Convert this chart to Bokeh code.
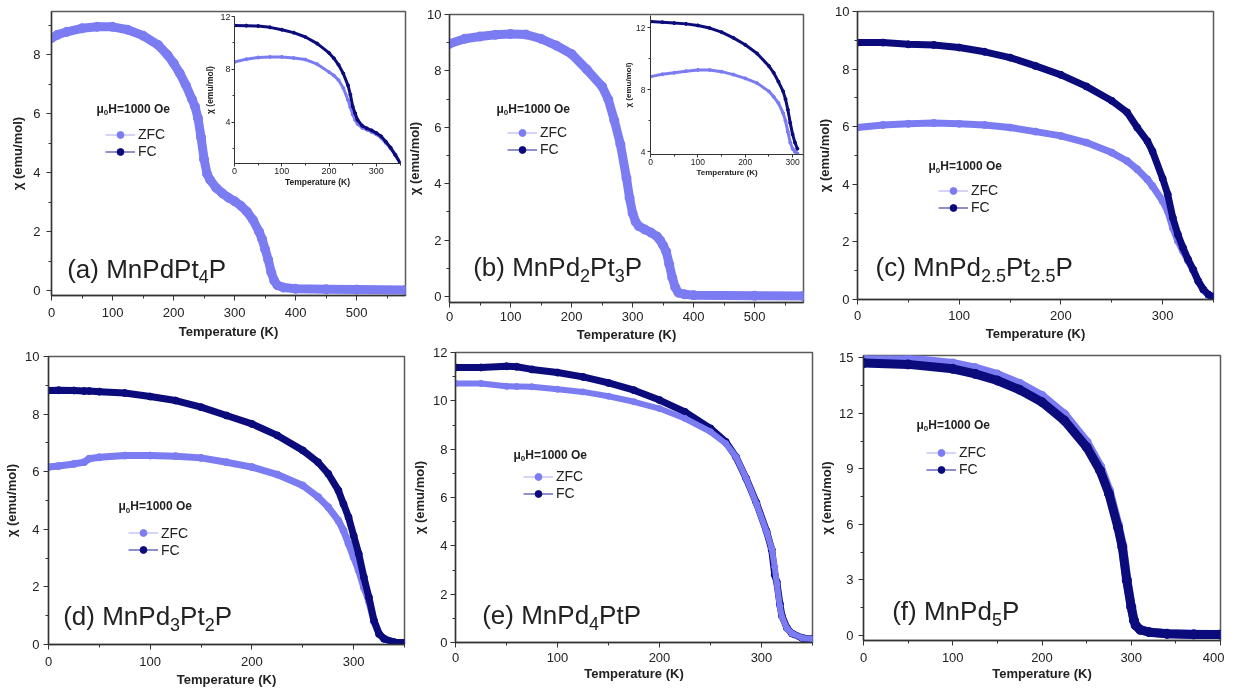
from bokeh.plotting import figure
from bokeh.models import Range1d, SingleIntervalTicker, Label, Legend, LegendItem, Column
from bokeh.embed import file_html
from bokeh.resources import INLINE

# ---------------- data ----------------
# (a) MnPdPt4P main panel, ZFC
T_a = [0, 10, 25, 50, 75, 100, 125, 150, 175, 190, 200, 210, 220, 230, 235, 240, 245, 250, 255, 260,
       270, 280, 290, 300, 310, 320, 330, 340, 345, 350, 355, 360, 365, 370, 380, 400, 450, 500, 580]
zfc_a = [8.57, 8.68, 8.78, 8.9, 8.95, 8.95, 8.85, 8.65, 8.33, 8.0, 7.72, 7.38, 6.98, 6.5, 6.25, 5.85, 5.2, 4.45, 3.95, 3.75,
         3.48, 3.3, 3.15, 3.03, 2.88, 2.68, 2.4, 2.0, 1.75, 1.4, 1.05, 0.62, 0.33, 0.18, 0.1, 0.06, 0.04, 0.03, 0.02]
# (a) inset
T_ia = [0, 25, 50, 75, 100, 125, 150, 175, 200, 210, 220, 230, 240, 245, 250, 255, 260, 270, 280, 290,
        300, 310, 320, 330, 340, 350]
fc_ia = [11.32, 11.31, 11.28, 11.18, 11.0, 10.78, 10.45, 9.95, 9.25, 8.85, 8.35, 7.7, 6.8, 6.1, 5.2, 4.7, 4.2, 3.75, 3.55, 3.4,
         3.2, 2.95, 2.55, 2.1, 1.55, 0.95]
zfc_ia = [8.57, 8.78, 8.9, 8.95, 8.95, 8.87, 8.75, 8.4, 7.8, 7.55, 7.2, 6.6, 5.7, 5.15, 4.6, 4.2, 3.9, 3.6, 3.45, 3.28,
          3.1, 2.85, 2.45, 2.05, 1.55, 0.95]
# (b) MnPd2Pt3P main panel, ZFC
T_b = [0, 25, 50, 75, 100, 125, 150, 175, 200, 225, 250, 260, 270, 280, 290, 295, 300, 305, 310, 320,
       330, 340, 345, 350, 355, 360, 365, 370, 375, 385, 400, 500, 580]
zfc_b = [8.96, 9.14, 9.22, 9.28, 9.31, 9.29, 9.14, 8.9, 8.6, 8.05, 7.45, 7.0, 6.25, 5.4, 4.2, 3.5, 2.95, 2.65, 2.5, 2.38,
         2.27, 2.13, 2.0, 1.82, 1.6, 1.15, 0.67, 0.32, 0.14, 0.08, 0.05, 0.03, 0.02]
# (b) inset
T_ib = [0, 25, 50, 75, 100, 125, 150, 175, 200, 225, 250, 260, 270, 280, 285, 290, 295, 300, 305, 310]
fc_ib = [12.4, 12.36, 12.3, 12.25, 12.15, 11.98, 11.72, 11.35, 10.9, 10.34, 9.53, 9.1, 8.53, 7.9, 7.4, 6.72, 5.87, 5.13, 4.6, 4.2]
zfc_ib = [8.85, 9.0, 9.1, 9.2, 9.28, 9.28, 9.17, 8.98, 8.74, 8.43, 7.9, 7.55, 7.15, 6.5, 6.0, 5.3, 4.6, 4.2, 4.0, 3.9]
# (c) MnPd2.5Pt2.5P
T_c = [0, 25, 50, 75, 100, 125, 150, 175, 200, 225, 250, 265, 275, 285, 290, 300, 305, 310, 315, 320,
       325, 330, 335, 340, 345, 350]
fc_c = [8.92, 8.92, 8.86, 8.84, 8.75, 8.6, 8.4, 8.11, 7.8, 7.4, 6.9, 6.5, 5.97, 5.5, 5.15, 4.2, 3.65, 2.84, 2.26, 1.8,
        1.39, 1.04, 0.64, 0.35, 0.17, 0.09]
zfc_c = [5.97, 6.06, 6.1, 6.13, 6.1, 6.06, 5.97, 5.83, 5.68, 5.45, 5.1, 4.81, 4.52, 4.17, 3.94, 3.42, 3.07, 2.49, 2.03, 1.68,
         1.35, 1.02, 0.63, 0.34, 0.16, 0.08]
# (d) MnPd3Pt2P
T_d = [0, 10, 25, 35, 40, 50, 75, 100, 125, 150, 175, 200, 225, 250, 265, 275, 285, 290, 295, 300,
       305, 310, 315, 320, 325, 330, 340, 350]
fc_d = [8.82, 8.83, 8.82, 8.8, 8.8, 8.78, 8.73, 8.61, 8.47, 8.24, 7.95, 7.66, 7.26, 6.74, 6.33, 5.93, 5.35, 4.88, 4.42, 3.78,
        3.15, 2.34, 1.64, 0.83, 0.37, 0.2, 0.08, 0.06]
zfc_d = [6.16, 6.2, 6.27, 6.33, 6.45, 6.5, 6.56, 6.56, 6.54, 6.48, 6.33, 6.16, 5.9, 5.52, 5.12, 4.77, 4.3, 3.96, 3.5, 3.03,
         2.57, 1.99, 1.5, 0.8, 0.36, 0.19, 0.08, 0.06]
# (e) MnPd4PtP
T_e = [0, 25, 50, 60, 75, 100, 125, 150, 175, 200, 225, 250, 265, 275, 285, 295, 305, 310, 313, 315,
       318, 320, 325, 330, 340, 350]
fc_e = [11.38, 11.38, 11.43, 11.41, 11.3, 11.17, 10.99, 10.74, 10.44, 10.03, 9.54, 8.86, 8.3, 7.68, 6.79, 5.78, 4.6, 3.85, 2.8, 2.5,
        1.6, 1.1, 0.6, 0.37, 0.19, 0.14]
zfc_e = [10.72, 10.72, 10.6, 10.59, 10.58, 10.48, 10.37, 10.19, 9.96, 9.68, 9.27, 8.72, 8.23, 7.68, 6.79, 5.75, 4.58, 3.89, 3.13, 2.44,
         1.48, 1.06, 0.58, 0.37, 0.19, 0.14]
# (f) MnPd5P
T_f = [0, 50, 100, 125, 150, 175, 200, 225, 250, 265, 275, 285, 290, 295, 300, 303, 305, 310, 320, 340, 370, 400]
fc_f = [14.72, 14.65, 14.41, 14.14, 13.78, 13.28, 12.61, 11.62, 10.18, 8.92, 7.66, 5.86, 4.77, 2.97, 1.53, 0.81, 0.54, 0.31,
        0.18, 0.09, 0.06, 0.05]
zfc_f = [15.0, 14.95, 14.7, 14.45, 14.1, 13.6, 12.95, 11.95, 10.45, 9.15, 7.85, 6.0, 4.9, 3.05, 1.58, 0.84, 0.56, 0.32,
         0.19, 0.1, 0.07, 0.06]

# ---------------- texts ----------------
x_label = "Temperature (K)"
y_label = "χ (emu/mol)"
series_names = ["ZFC", "FC"]
legend_title = [("μ", False), ("0", True), ("H=1000 Oe", False)]
name_a = [("(a) MnPdPt", False), ("4", True), ("P", False)]
name_b = [("(b) MnPd", False), ("2", True), ("Pt", False), ("3", True), ("P", False)]
name_c = [("(c) MnPd", False), ("2.5", True), ("Pt", False), ("2.5", True), ("P", False)]
name_d = [("(d) MnPd", False), ("3", True), ("Pt", False), ("2", True), ("P", False)]
name_e = [("(e) MnPd", False), ("4", True), ("PtP", False)]
name_f = [("(f) MnPd", False), ("5", True), ("P", False)]

# ---------------- styles ----------------
FONT = "Liberation Sans"
ZFC_COLOR = "#7b7cf2"
FC_COLOR = "#0b0b7c"
ZFC_LEG_LINE = "#c6c6f9"
FC_LEG_LINE = "#6a6ab8"
TXT = "#222222"
NAN = float("nan")

REG_W = {' ': 278, '(': 333, ')': 333, 'a': 556, 'b': 556, 'c': 500, 'd': 556, 'e': 556, 'f': 278,
         'M': 833, 'n': 556, 'P': 667, 't': 278, '.': 278}
BOLD_W = {'μ': 611, 'H': 722, '=': 584, ' ': 278, 'O': 778, 'e': 556}

ML_MAIN, MT_MAIN, MR_MAIN, MB_MAIN = 56, 10, 4, 45
ML_IN, MT_IN, MR_IN, MB_IN = 56, 8, 2, 30


def text_w(s, size, bold):
    tbl = BOLD_W if bold else REG_W
    return sum(tbl.get(ch, 556) for ch in s) * size / 1000.0


def make_fig(frame, xr, yr, xint, yint, tick_fs, lab_fs, tout, mout,
             xls, xals, yls, yals, inset=False):
    fx, fy, fw, fh = frame
    if inset:
        ml, mt, mr, mb = ML_IN, MT_IN, MR_IN, MB_IN
    else:
        ml, mt, mr, mb = ML_MAIN, MT_MAIN, MR_MAIN, MB_MAIN
    p = figure(frame_width=fw, frame_height=fh, x_range=Range1d(*xr), y_range=Range1d(*yr),
               output_backend="svg", toolbar_location=None,
               min_border_left=ml, min_border_right=mr, min_border_top=mt, min_border_bottom=mb,
               styles={"position": "absolute", "left": f"{fx - ml}px", "top": f"{fy - mt}px"})
    p.border_fill_color = None
    p.background_fill_color = None if inset else "white"
    if inset:
        p.outline_line_color = None
    else:
        p.outline_line_color = "#5a5a5a"
        p.outline_line_width = 1.5
    p.grid.visible = False
    p.xaxis.ticker = SingleIntervalTicker(interval=xint, num_minor_ticks=2)
    p.yaxis.ticker = SingleIntervalTicker(interval=yint, num_minor_ticks=2)
    for ax, ls, als in ((p.xaxis, xls, xals), (p.yaxis, yls, yals)):
        ax.axis_line_color = "#333333"
        ax.axis_line_width = 1.3 if not inset else 1.0
        ax.major_tick_line_color = "#333333"
        ax.minor_tick_line_color = "#333333"
        ax.major_tick_in = 0
        ax.major_tick_out = tout
        ax.minor_tick_in = 0
        ax.minor_tick_out = mout
        ax.major_label_text_font = FONT
        ax.major_label_text_font_size = f"{tick_fs}px"
        ax.major_label_text_color = TXT
        ax.major_label_standoff = ls
        ax.axis_label_text_font = FONT
        ax.axis_label_text_font_size = f"{lab_fs}px"
        ax.axis_label_text_font_style = "bold"
        ax.axis_label_text_color = TXT
        ax.axis_label_standoff = als
    p.xaxis.axis_label = x_label
    p.yaxis.axis_label = y_label
    p._frame = frame
    p._xr = xr
    p._yr = yr
    return p


def to_data(p, px, py):
    fx, fy, fw, fh = p._frame
    x0, x1 = p._xr
    y0, y1 = p._yr
    return x0 + (px - fx) / fw * (x1 - x0), y1 - (py - fy) / fh * (y1 - y0)


def rich_text(p, px, baseline, pieces, size, sub_size, drop, bold):
    """Text with subscripts; px = left edge, baseline = main text baseline (reference pixels)."""
    off = 0.0
    for txt, sub in pieces:
        fs = sub_size if sub else size
        cy = baseline + (drop if sub else 0) - 0.35 * fs
        x, y = to_data(p, px, cy)
        p.add_layout(Label(x=x, y=y, x_offset=off, text=txt,
                           text_font=FONT, text_font_size=f"{fs}px",
                           text_font_style="bold" if bold else "normal",
                           text_color=TXT, text_baseline="middle", text_align="left"))
        off += text_w(txt, fs, bold)


def band(p, T, vals, color, width):
    p.line(T, vals, line_color=color, line_width=width, line_join="round", line_cap="round")
    p.scatter(T, vals, size=width, color=color)


def add_legend(p, glyph_x, zfc_y, title_x, title_y):
    fx, fy, fw, fh = p._frame
    lz = p.line(x=[NAN], y=[NAN], line_color=ZFC_LEG_LINE, line_width=1.5)
    dz = p.scatter(x=[NAN], y=[NAN], size=8, color=ZFC_COLOR)
    lf = p.line(x=[NAN], y=[NAN], line_color=FC_LEG_LINE, line_width=1.5)
    df = p.scatter(x=[NAN], y=[NAN], size=8, color=FC_COLOR)
    item_h = 17
    top = zfc_y - item_h / 2.0
    bottom = top + 2 * item_h
    leg = Legend(items=[LegendItem(label=series_names[0], renderers=[lz, dz]),
                        LegendItem(label=series_names[1], renderers=[lf, df])],
                 location=(glyph_x - fx, (fy + fh) - bottom),
                 glyph_width=30, glyph_height=item_h, label_height=item_h, label_standoff=3,
                 spacing=0, padding=0, margin=0, border_line_color=None,
                 background_fill_alpha=0, label_text_font=FONT, label_text_font_size="14px",
                 label_text_color=TXT)
    p.add_layout(leg)
    rich_text(p, title_x, title_y + 4.2, legend_title, 12, 8, 3, True)


figs = []

# (a)
pa = make_fig((51, 11, 354, 284), (0, 580), (-0.17, 9.47), 100, 2, 13, 13, 5, 3, 7, 4, 6, 5)
band(pa, T_a, zfc_a, ZFC_COLOR, 9)
add_legend(pa, 105, 134, 96, 108)
rich_text(pa, 66.7, 277.3, name_a, 26, 18, 5, False)
figs.append(pa)

ia = make_fig((234, 16, 166, 147), (0, 351), (0.9, 12), 100, 4, 9, 8.5, 3, 2, 1, 0, 1, 2, inset=True)
band(ia, T_ia, zfc_ia, ZFC_COLOR, 3)
band(ia, T_ia, fc_ia, FC_COLOR, 3)
figs.append(ia)

# (b)
pb = make_fig((449, 14, 354, 288), (0, 580), (-0.21, 10), 100, 2, 13, 13, 5, 3, 4, 3, 3, 2)
band(pb, T_b, zfc_b, ZFC_COLOR, 9)
add_legend(pb, 507, 132.3, 496, 108)
rich_text(pb, 472.7, 276, name_b, 26, 18, 5, False)
figs.append(pb)

ib = make_fig((650, 15, 153, 139), (0, 323), (3.83, 12.79), 100, 4, 8.5, 8, 3, 2, 1, 0, 2, 0, inset=True)
band(ib, T_ib, zfc_ib, ZFC_COLOR, 3)
band(ib, T_ib, fc_ib, FC_COLOR, 3)
figs.append(ib)

# (c)
pc = make_fig((857, 11, 356, 288), (0, 350), (0, 10), 100, 2, 13, 13, 5, 3, 6, 3, 3, 0)
band(pc, T_c, zfc_c, ZFC_COLOR, 7)
band(pc, T_c, fc_c, FC_COLOR, 7)
add_legend(pc, 938, 190, 928, 165.7)
rich_text(pc, 875, 276, name_c, 26, 18, 5, False)
figs.append(pc)

# (d)
pd_ = make_fig((48, 356, 356, 288), (0, 350), (0, 10), 100, 2, 13, 13, 5, 3, 7, 3, 4, 3)
band(pd_, T_d, zfc_d, ZFC_COLOR, 7)
band(pd_, T_d, fc_d, FC_COLOR, 7)
add_legend(pd_, 128, 532.7, 118, 505.7)
rich_text(pd_, 62.7, 625, name_d, 26, 18, 5, False)
figs.append(pd_)

# (e)
pe = make_fig((455, 352, 357, 290), (0, 350), (0, 12), 100, 2, 13, 13, 5, 3, 5, 1, 3, 3)
band(pe, T_e, fc_e, FC_COLOR, 7)
band(pe, T_e, zfc_e, ZFC_COLOR, 6)
add_legend(pe, 523, 476, 513, 454)
rich_text(pe, 481.7, 624, name_e, 26, 18, 5, False)
figs.append(pe)

# (f)
pf = make_fig((863, 355, 357, 285), (0, 400), (-0.27, 15.13), 100, 3, 13, 13, 5, 3, 7, 1, 5, 2)
band(pf, T_f, zfc_f, ZFC_COLOR, 9)
band(pf, T_f, fc_f, FC_COLOR, 9)
add_legend(pf, 926, 452.3, 916, 424)
rich_text(pf, 891.7, 620, name_f, 26, 18, 5, False)
figs.append(pf)

root = Column(children=figs, width=1248, height=689, sizing_mode="fixed",
              styles={"position": "fixed", "left": "0px", "top": "0px", "overflow": "hidden"})

p = root
open("out.html", "w").write(file_html(p, INLINE))
